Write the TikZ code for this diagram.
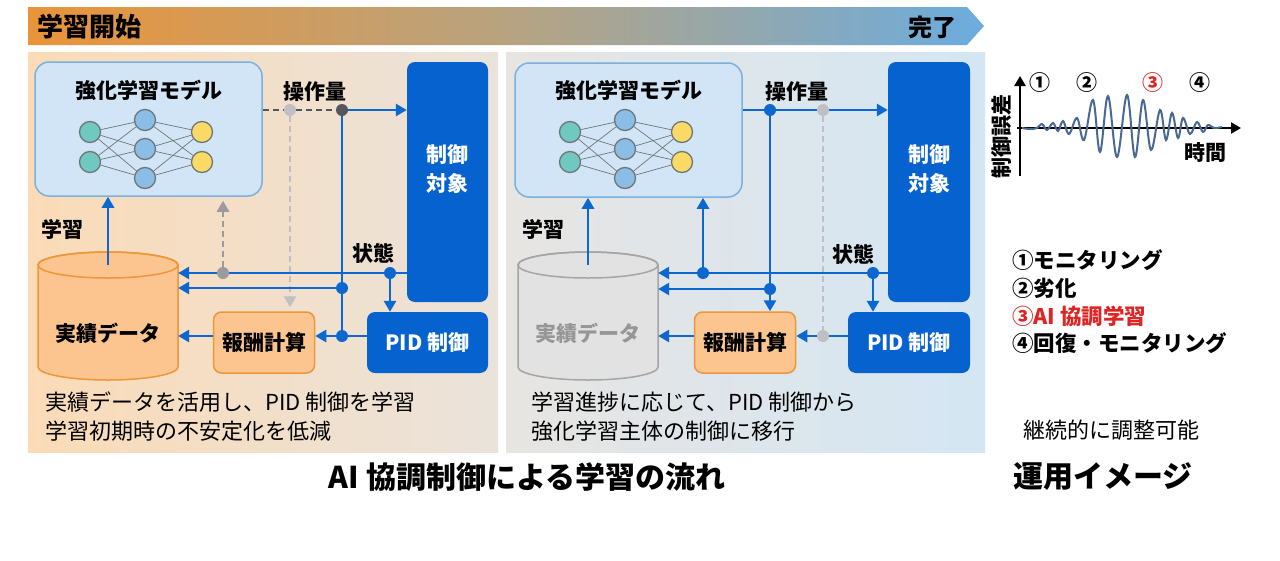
\documentclass[tikz,border=0pt]{standalone}
\usepackage{fontspec}
\setmainfont{Noto Sans CJK JP}
\usetikzlibrary{arrows.meta,positioning}
\tikzset{>={Triangle[length=11pt,width=12pt]}}
\definecolor{flowBlue}{RGB}{12,104,208}
\definecolor{boxBlue}{RGB}{6,98,206}
\definecolor{modelFill}{RGB}{209,229,246}
\definecolor{modelLine}{RGB}{122,177,222}
\definecolor{orangeFill}{RGB}{252,197,143}
\definecolor{orangeLine}{RGB}{238,150,58}
\definecolor{dbGrayFill}{RGB}{226,226,226}
\definecolor{dbGrayLine}{RGB}{165,165,165}
\definecolor{dbGrayTxt}{RGB}{150,150,150}
\definecolor{bannerL}{RGB}{234,148,56}
\definecolor{bannerM}{RGB}{184,163,128}
\definecolor{bannerR}{RGB}{108,172,222}
\definecolor{panelA}{RGB}{251,219,183}
\definecolor{panelB}{RGB}{234,227,219}
\definecolor{panelC}{RGB}{231,229,226}
\definecolor{panelD}{RGB}{212,230,244}
\definecolor{waveCol}{RGB}{72,104,150}
\definecolor{inCol}{RGB}{112,200,190}
\definecolor{hidCol}{RGB}{138,190,230}
\definecolor{outCol}{RGB}{250,218,100}
\definecolor{nnLine}{RGB}{110,118,120}
\definecolor{redTxt}{RGB}{224,36,36}
\definecolor{dashDark}{RGB}{85,85,92}
\definecolor{dashMid}{RGB}{155,155,158}
\definecolor{dashLight}{RGB}{192,192,196}
\newcommand{\fsz}[1]{\fontsize{#1}{#1}\selectfont}
\tikzset{
  every node/.style={inner sep=0pt},
  lbl/.style={font=\bfseries\fsz{21}},
  capTxt/.style={anchor=west, font=\fsz{22}},
  legTxt/.style={anchor=west, font=\bfseries\fsz{21.5}},
  modelBox/.style={draw=modelLine, line width=1.5pt, fill=modelFill, rounded corners=14pt,
    minimum width=227pt, minimum height=134pt},
  ctrlBox/.style={fill=boxBlue, rounded corners=8pt, minimum width=81pt, minimum height=240pt},
  ctrlTxt/.style={text=white, align=center, font=\bfseries\fontsize{21}{29}\selectfont},
  pidBox/.style={fill=boxBlue, rounded corners=8pt, minimum width=121pt, minimum height=61pt,
    text=white, font=\bfseries\fsz{21}},
  rewardBox/.style={draw=orangeLine, line width=1.5pt, fill=orangeFill, rounded corners=8pt,
    minimum width=101pt, minimum height=61pt, font=\bfseries\fsz{21}},
  dbArea/.style={minimum width=140pt, minimum height=128pt},
  neuron/.style={circle, draw=nnLine, line width=1.3pt, minimum size=21pt},
  syn/.style={nnLine, line width=0.7pt},
  flow/.style={flowBlue, line width=2.9pt},
  dkDash/.style={dashDark, line width=2.8pt, dash pattern=on 6pt off 4pt},
  mdDash/.style={dashMid, line width=2.8pt, dash pattern=on 6pt off 4pt, shorten >=4pt},
  ltDash/.style={dashLight, line width=2.8pt, dash pattern=on 6pt off 4pt, shorten >=4pt},
  dotB/.style={circle, fill=flowBlue, minimum size=12pt},
  dotD/.style={circle, fill=dashDark, minimum size=12pt},
  dotM/.style={circle, fill=dashMid, minimum size=12pt},
  dotL/.style={circle, fill=dashLight, minimum size=12pt},
  axisArrow/.style={black, line width=2.8pt, -{Triangle[length=10pt,width=11pt]}}
}
\begin{document}
\begin{tikzpicture}[x=1pt, y=-1pt]
\useasboundingbox[fill=white] (0,0) rectangle (1280,560);

\shade[left color=bannerL, right color=bannerR, middle color=bannerM]
  (28,7) -- (967,7) -- (984,26) -- (967,45) -- (28,45) -- cycle;
\node[anchor=west, font=\bfseries\fsz{26}] (startTxt) at (37,27) {学習開始};
\node[anchor=east, font=\bfseries\fsz{24}] (endTxt) at (957,27) {完了};

\shade[left color=panelA, right color=panelB] (28,52) rectangle (498,452);
\shade[left color=panelC, right color=panelD] (506,52) rectangle (985,452);

% left panel
\node[modelBox] (model1) at (148.5,129) {};
\node[lbl] (model1t) at (148.5,90) {強化学習モデル};
\node[ctrlBox] (ctrl1) at (447.5,182) {};
\node[ctrlTxt] (ctrl1t) at (447.5,169) {制御\\対象};
\node[pidBox] (pid1) at (427.5,342.5) {PID 制御};
\node[rewardBox] (rew1) at (264,342.5) {報酬計算};
\node[dbArea] (db1) at (108,316) {};
\draw[orangeLine, fill=orangeFill, line width=1.5pt] (38,265) -- (38,367)
  arc[start angle=180, end angle=360, x radius=70pt, y radius=13pt] -- (178,265)
  arc[start angle=0, end angle=180, x radius=70pt, y radius=13pt] -- cycle;
\draw[orangeLine, line width=1.5pt] (108,265) ellipse[x radius=70pt, y radius=13pt];
\node[font=\bfseries\fsz{21}] (db1t) at (108,333) {実績データ};
\coordinate (cap1) at (108,265);

\node[lbl] (op1) at (315,92) {操作量};
\node[lbl] (st1) at (373,253) {状態};
\node[lbl] (le1) at (62,229) {学習};

\node[dotD] (j1) at (342,110) {};
\node[dotL] (g1) at (290,110) {};
\node[dotB] (j2) at (342,288) {};
\node[dotB] (j3) at (342,336) {};
\node[dotB] (s1) at (390,273) {};
\node[dotM] (g2) at (223,273) {};

\draw[dkDash] (model1.east |- g1) -- (g1);
\draw[dkDash] (g1) -- (j1);
\draw[ltDash,->] (g1) -- (rew1.north -| g1);
\draw[mdDash,->] (g2) -- (model1.south -| g2);
\draw[flow,->] (j1) -- (ctrl1.west |- j1);
\draw[flow] (j1) -- (j2);
\draw[flow] (j2) -- (j3);
\draw[flow,->] (j2) -- (db1.east |- j2);
\draw[flow] (ctrl1.west |- s1) -- (s1);
\draw[flow] (s1) -- (g2);
\draw[flow,->] (g2) -- (db1.east |- g2);
\draw[flow,->] (s1) -- (pid1.north -| s1);
\draw[flow] (pid1.west |- j3) -- (j3);
\draw[flow,->] (j3) -- (rew1.east |- j3);
\draw[flow,->] (rew1.west |- j3) -- (db1.east |- j3);
\draw[flow,->] (cap1) -- (model1.south -| cap1);

\node[capTxt] (cap1a) at (45,402) {実績データを活用し、PID 制御を学習};
\node[capTxt] (cap1b) at (45,431) {学習初期時の不安定化を低減};

% right panel
\node[modelBox] (model2) at (628.5,130) {};
\node[lbl] (model2t) at (628.5,90) {強化学習モデル};
\node[ctrlBox, minimum width=82pt] (ctrl2) at (929,182) {};
\node[ctrlTxt] (ctrl2t) at (929,169) {制御\\対象};
\node[pidBox, minimum width=122pt] (pid2) at (909,342.5) {PID 制御};
\node[rewardBox] (rew2) at (745,342.5) {報酬計算};
\node[dbArea] (db2) at (588,316) {};
\draw[dbGrayLine, fill=dbGrayFill, line width=1.5pt] (518,265) -- (518,367)
  arc[start angle=180, end angle=360, x radius=70pt, y radius=13pt] -- (658,265)
  arc[start angle=0, end angle=180, x radius=70pt, y radius=13pt] -- cycle;
\draw[dbGrayLine, line width=1.5pt] (588,265) ellipse[x radius=70pt, y radius=13pt];
\node[font=\bfseries\fsz{21}, text=dbGrayTxt] (db2t) at (588,333) {実績データ};
\coordinate (cap2) at (588,265);

\node[lbl] (op2) at (797,92) {操作量};
\node[lbl] (st2) at (853,254) {状態};
\node[lbl] (le2) at (543,229) {学習};

\node[dotB] (b1) at (770,110) {};
\node[dotL] (g3) at (823,110) {};
\node[dotB] (b2) at (770,289) {};
\node[dotB] (b3) at (703,273) {};
\node[dotB] (s2) at (873,273) {};
\node[dotL] (g4) at (823,336) {};

\draw[ltDash, shorten >=0pt] (g3) -- (g4);
\draw[flow] (model2.east |- b1) -- (b1);
\draw[flow] (b1) -- (g3);
\draw[flow,->] (g3) -- (ctrl2.west |- g3);
\draw[flow] (b1) -- (b2);
\draw[flow,->] (b2) -- (rew2.north -| b2);
\draw[flow,->] (b2) -- (db2.east |- b2);
\draw[flow] (ctrl2.west |- s2) -- (s2);
\draw[flow] (s2) -- (b3);
\draw[flow,->] (b3) -- (db2.east |- b3);
\draw[flow,->] (b3) -- (model2.south -| b3);
\draw[flow,->] (s2) -- (pid2.north -| s2);
\draw[flow,->] (cap2) -- (model2.south -| cap2);
\draw[flow] (pid2.west |- g4) -- (g4);
\draw[flow,->] (g4) -- (rew2.east |- g4);
\draw[flow,->] (rew2.west |- g4) -- (db2.east |- g4);

\node[capTxt] (cap2a) at (531,402) {学習進捗に応じて、PID 制御から};
\node[capTxt] (cap2b) at (531,431) {強化学習主体の制御に移行};

% neural nets
\foreach \p/\dx in {a/0,b/480}{
  \foreach \i/\y in {1/132,2/162}
    \node[neuron, fill=inCol] (\p i\i) at (90+\dx,\y) {};
  \foreach \i/\y in {1/120,2/149,3/178}
    \node[neuron, fill=hidCol] (\p h\i) at (145+\dx,\y) {};
  \foreach \i/\y in {1/132,2/162}
    \node[neuron, fill=outCol] (\p o\i) at (202+\dx,\y) {};
  \foreach \i in {1,2}
    \foreach \j in {1,2,3}{
      \draw[syn] (\p i\i) -- (\p h\j);
      \draw[syn] (\p h\j) -- (\p o\i);
    }
}

\node[font=\bfseries\fsz{30}] (flowTitle) at (527,477) {AI 協調制御による学習の流れ};

% chart
\draw[axisArrow] (1020,176) -- (1020,76);
\draw[axisArrow] (1017,128) -- (1241,128);
\draw[waveCol, line width=2pt] plot[smooth, tension=0.6] coordinates {
  (1022,128) (1030,129) (1037,128) (1042,124) (1047,130) (1053,123) (1058,131)
  (1063,121) (1069,134) (1077,118) (1084,140) (1093,100) (1100,152) (1108,96)
  (1117,157) (1127,95) (1135,157) (1143,100) (1151,150) (1160,110) (1166,140)
  (1172,113) (1178,138) (1183,118) (1190,134) (1197,122) (1203,132) (1208,125)
  (1214,128) (1222,127)};
\node[rotate=90, font=\bfseries\fsz{21}] (errLbl) at (1001,136) {制御誤差};
\node[font=\bfseries\fsz{21}] (timeLbl) at (1205,153) {時間};
\node[font=\bfseries\fsz{21}] (n1) at (1040,83) {①};
\node[font=\bfseries\fsz{21}] (n2) at (1087,83) {②};
\node[font=\bfseries\fsz{21}, text=redTxt] (n3) at (1153,83) {③};
\node[font=\bfseries\fsz{21}] (n4) at (1200,83) {④};

\node[legTxt] (leg1) at (1012,260) {①モニタリング};
\node[legTxt] (leg2) at (1012,288) {②劣化};
\node[legTxt, text=redTxt] (leg3) at (1012,316) {③AI 協調学習};
\node[legTxt] (leg4) at (1012,343) {④回復・モニタリング};
\node[anchor=west, font=\fsz{22}] (note) at (1023,430) {継続的に調整可能};
\node[anchor=west, font=\bfseries\fsz{30}] (opTitle) at (1013,477) {運用イメージ};
\end{tikzpicture}
\end{document}
